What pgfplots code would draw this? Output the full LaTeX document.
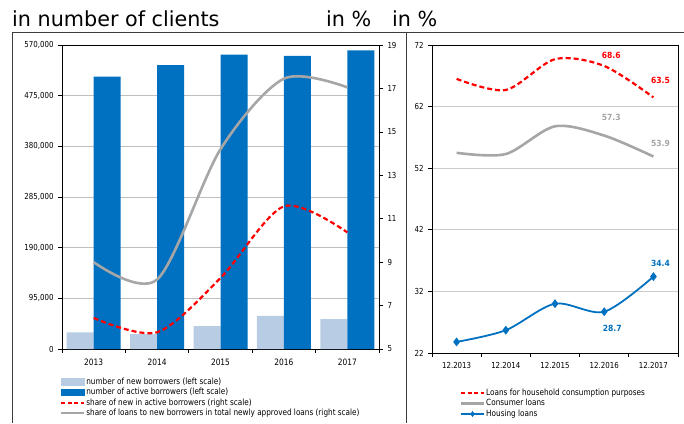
\documentclass[border=0pt]{standalone}
\usepackage{fontspec}
\setmainfont{DejaVu Sans}[FakeStretch=0.85]
\newfontfamily\headfont{DejaVu Sans}
\newfontfamily\labfont{DejaVu Sans}[FakeStretch=0.9]
\usepackage{pgfplots}
\pgfplotsset{compat=1.18}
\definecolor{darkblue}{RGB}{0,112,192}
\definecolor{lightblue}{RGB}{184,204,228}
\definecolor{lgray}{RGB}{166,166,166}
\definecolor{gridc}{RGB}{191,191,191}
\definecolor{frame}{RGB}{60,60,60}
\begin{document}
\begin{tikzpicture}[x=1bp,y=1bp]
\useasboundingbox (0,0) rectangle (684,423);
\draw[frame, line width=0.8bp] (12,0) -- (12,391) -- (684,391);
\draw[frame, line width=0.8bp] (406,0) -- (406,391);
\node[anchor=base west, inner sep=0, font=\headfont\fontsize{20.8}{22}\selectfont] at (12,396) {in number of clients};
\node[anchor=base west, inner sep=0, font=\headfont\fontsize{20.8}{22}\selectfont] at (326,396) {in \%};
\node[anchor=base west, inner sep=0, font=\headfont\fontsize{20.8}{22}\selectfont] at (392,396) {in \%};

\pgfplotsset{
  mybase/.style={
    scale only axis, anchor=south west,
    xmin=-0.5, xmax=4.5,
    tick align=outside,
    major tick length=4bp, minor tick length=4bp,
    tick style={black, line width=0.7bp},
    axis line style={black, line width=0.8bp},
    ticklabel style={font=\fontsize{8.3}{9}\selectfont},
    /pgf/number format/assume math mode=true,
    scaled y ticks=false,
  },
}

% left chart, left scale (bars)
\begin{axis}[mybase,
  at={(62bp,74bp)}, width=317bp, height=304bp,
  ymin=0, ymax=570000,
  ytick={0,95000,190000,285000,380000,475000,570000},
  yticklabels={0,{95,000},{190,000},{285,000},{380,000},{475,000},{570,000}},
  ytick pos=left, xtick pos=bottom,
  ymajorgrids, grid style={gridc, line width=0.8bp},
  xtick={0,1,2,3,4}, xticklabels={2013,2014,2015,2016,2017},
  major x tick style={draw=none},
  minor xtick={-0.5,0.5,1.5,2.5,3.5,4.5},
  xticklabel style={font=\fontsize{8.8}{9}\selectfont, yshift=-2bp},
  yticklabel style={xshift=-1bp},
]
\addplot[ybar, bar width=27bp, bar shift=-13.5bp, fill=lightblue, draw=none]
  coordinates {(0,31300) (1,28100) (2,43100) (3,61900) (4,56250)};
\addplot[ybar, bar width=27bp, bar shift=13.5bp, fill=darkblue, draw=none]
  coordinates {(0,510600) (1,532500) (2,551800) (3,549400) (4,560100)};
\end{axis}

% left chart, right scale (lines)
\begin{axis}[mybase,
  at={(62bp,74bp)}, width=317bp, height=304bp,
  ymin=5, ymax=19, ytick={5,7,9,11,13,15,17,19},
  axis y line*=right, axis x line=none,
  yticklabel style={xshift=1bp},
  legend style={at={(-0.0065,-0.09)}, anchor=north west, draw=none, fill=none,
    font=\fontsize{8.6}{9}\selectfont, inner sep=0pt, outer sep=0pt,
    row sep=-0.1bp, column sep=0pt,
    nodes={inner sep=1bp, text height=6.7bp, text depth=1.9bp},
    cells={anchor=west}},
]
\addplot[red, line width=2.2bp, dash pattern=on 5bp off 3bp, smooth, tension=0.5, forget plot]
  coordinates {(0,6.43) (1,5.77) (2,8.27) (3,11.57) (4,10.37)};
\addplot[lgray, line width=2.6bp, smooth, tension=0.5, forget plot]
  coordinates {(0,9.0) (1,8.2) (2,14.2) (3,17.45) (4,17.05)};
\addlegendimage{legend image code/.code={\fill[lightblue] (0bp,-3.2bp) rectangle (23bp,3.2bp);}}
\addlegendentry{number of new borrowers (left scale)}
\addlegendimage{legend image code/.code={\fill[darkblue] (0bp,-3.2bp) rectangle (23bp,3.2bp);}}
\addlegendentry{number of active borrowers (left scale)}
\addlegendimage{legend image code/.code={\draw[red, line width=2bp, dash pattern=on 4bp off 2.5bp] (0bp,0bp) -- (23bp,0bp);}}
\addlegendentry{share of new in active borrowers (right scale)}
\addlegendimage{legend image code/.code={\draw[lgray, line width=2.4bp] (0bp,0bp) -- (23bp,0bp);}}
\addlegendentry{share of loans to new borrowers in total newly approved loans (right scale)}
\end{axis}

% right chart
\begin{axis}[mybase,
  at={(432bp,70bp)}, width=246bp, height=308bp,
  ymin=22, ymax=72, ytick={22,32,42,52,62,72},
  ytick pos=left, xtick pos=bottom,
  ymajorgrids, grid style={gridc!80, line width=0.8bp},
  xtick={0,1,2,3,4}, xticklabels={12.2013,12.2014,12.2015,12.2016,12.2017},
  major x tick style={draw=none},
  minor xtick={-0.5,0.5,1.5,2.5,3.5,4.5},
  xticklabel style={yshift=-2bp},
  yticklabel style={xshift=-1bp},
  legend style={at={(0.113,-0.112)}, anchor=north west, draw=none, fill=none,
    font=\fontsize{8.6}{9}\selectfont, inner sep=0pt, outer sep=0pt,
    row sep=0bp, column sep=0pt,
    nodes={inner sep=1bp, text height=6.7bp, text depth=1.9bp},
    cells={anchor=west}},
]
\addplot[red, line width=2.2bp, dash pattern=on 5bp off 3bp, smooth, tension=0.5, forget plot]
  coordinates {(0,66.5) (1,64.7) (2,69.7) (3,68.6) (4,63.5)};
\addplot[lgray, line width=2.6bp, smooth, tension=0.5, forget plot]
  coordinates {(0,54.5) (1,54.3) (2,58.8) (3,57.3) (4,53.9)};
\addplot[darkblue, line width=1.8bp, smooth, tension=0.5, mark=diamond*, mark size=3bp, forget plot]
  coordinates {(0,23.8) (1,25.7) (2,30.0) (3,28.7) (4,34.4)};
\addlegendimage{legend image code/.code={\draw[red, line width=2bp, dash pattern=on 4bp off 2.5bp] (0bp,0bp) -- (23bp,0bp);}}
\addlegendentry{Loans for household consumption purposes}
\addlegendimage{legend image code/.code={\draw[lgray, line width=2.4bp] (0bp,0bp) -- (23bp,0bp);}}
\addlegendentry{Consumer loans}
\addlegendimage{legend image code/.code={\draw[darkblue, line width=1.5bp] (0bp,0bp) -- (23bp,0bp); \fill[darkblue] (11.5bp,0bp) +(0,2.6bp) -- +(2bp,0) -- +(0,-2.6bp) -- +(-2bp,0) -- cycle;}}
\addlegendentry{Housing loans}
\node[font=\labfont\bfseries\fontsize{8.5}{9}\selectfont, text=red, inner sep=0] at (axis cs:3,68.6) [xshift=7bp, yshift=11bp] {68.6};
\node[font=\labfont\bfseries\fontsize{8.5}{9}\selectfont, text=red, inner sep=0] at (axis cs:4,63.5) [xshift=7bp, yshift=17bp] {63.5};
\node[font=\labfont\bfseries\fontsize{8.5}{9}\selectfont, text=lgray, inner sep=0] at (axis cs:3,57.3) [xshift=7bp, yshift=18bp] {57.3};
\node[font=\labfont\bfseries\fontsize{8.5}{9}\selectfont, text=lgray, inner sep=0] at (axis cs:4,53.9) [xshift=7bp, yshift=13bp] {53.9};
\node[font=\labfont\bfseries\fontsize{8.5}{9}\selectfont, text=darkblue, inner sep=0] at (axis cs:4,34.4) [xshift=7bp, yshift=13bp] {34.4};
\node[font=\labfont\bfseries\fontsize{8.5}{9}\selectfont, text=darkblue, inner sep=0] at (axis cs:3,28.7) [xshift=8bp, yshift=-17bp] {28.7};
\end{axis}
\end{tikzpicture}
\end{document}
